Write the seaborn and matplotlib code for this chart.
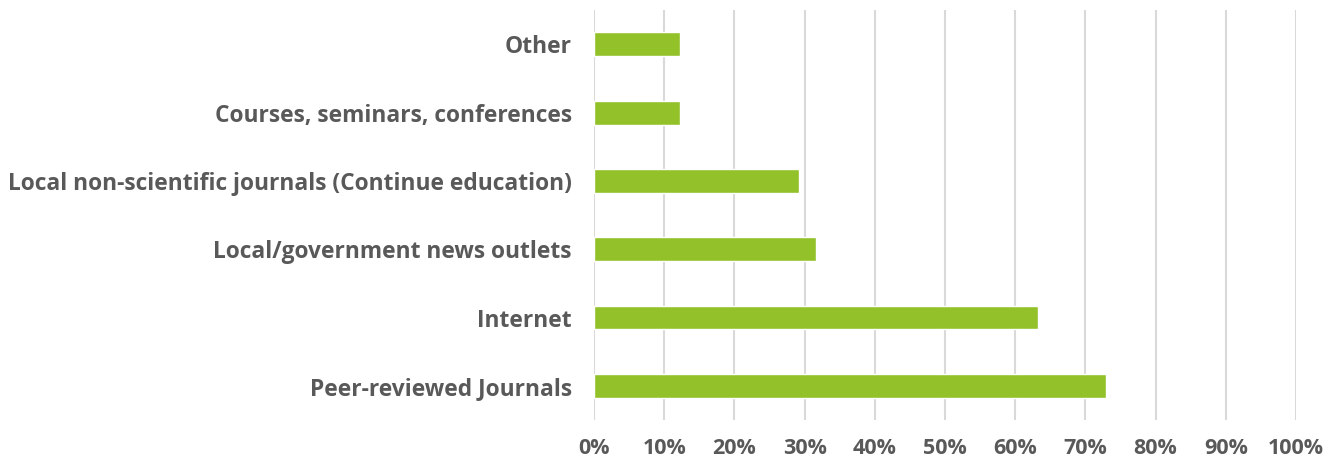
import matplotlib
matplotlib.use('Agg')
import matplotlib.pyplot as plt
import seaborn as sns
import pandas as pd
from matplotlib.ticker import PercentFormatter

# Data
sources = ['Other',
           'Courses, seminars, conferences',
           'Local non-scientific journals (Continue education)',
           'Local/government news outlets',
           'Internet',
           'Peer-reviewed Journals']
shares = [12.2, 12.2, 29.2, 31.6, 63.3, 73.0]

df = pd.DataFrame({'source': sources, 'share': shares})

sns.set_style('white')
plt.rcParams['font.family'] = ['Open Sans', 'DejaVu Sans']

fig = plt.figure(figsize=(13.38, 4.63), dpi=100)
ax = fig.add_axes([0.444, 0.093, 0.5246, 0.885])

sns.barplot(data=df, x='share', y='source', color='#92C12A', width=0.35,
            saturation=1, ax=ax, orient='h')

ax.set_xlim(0, 100)
ax.set_xticks(range(0, 101, 10))
ax.xaxis.set_major_formatter(PercentFormatter(decimals=0))
ax.grid(axis='x', color='#D9D9D9', linewidth=1.5)
ax.grid(axis='y', visible=False)
ax.set_axisbelow(True)
sns.despine(ax=ax, left=True, bottom=True, top=True, right=True)
ax.set_xlabel('')
ax.set_ylabel('')
ax.tick_params(axis='both', length=0, colors='#595959')
ax.tick_params(axis='x', pad=13, labelsize=15.5)
ax.tick_params(axis='y', pad=16, labelsize=16.4)
for lbl in ax.get_xticklabels() + ax.get_yticklabels():
    lbl.set_fontweight('bold')

fig.savefig('out.png', dpi=100, facecolor='white')
